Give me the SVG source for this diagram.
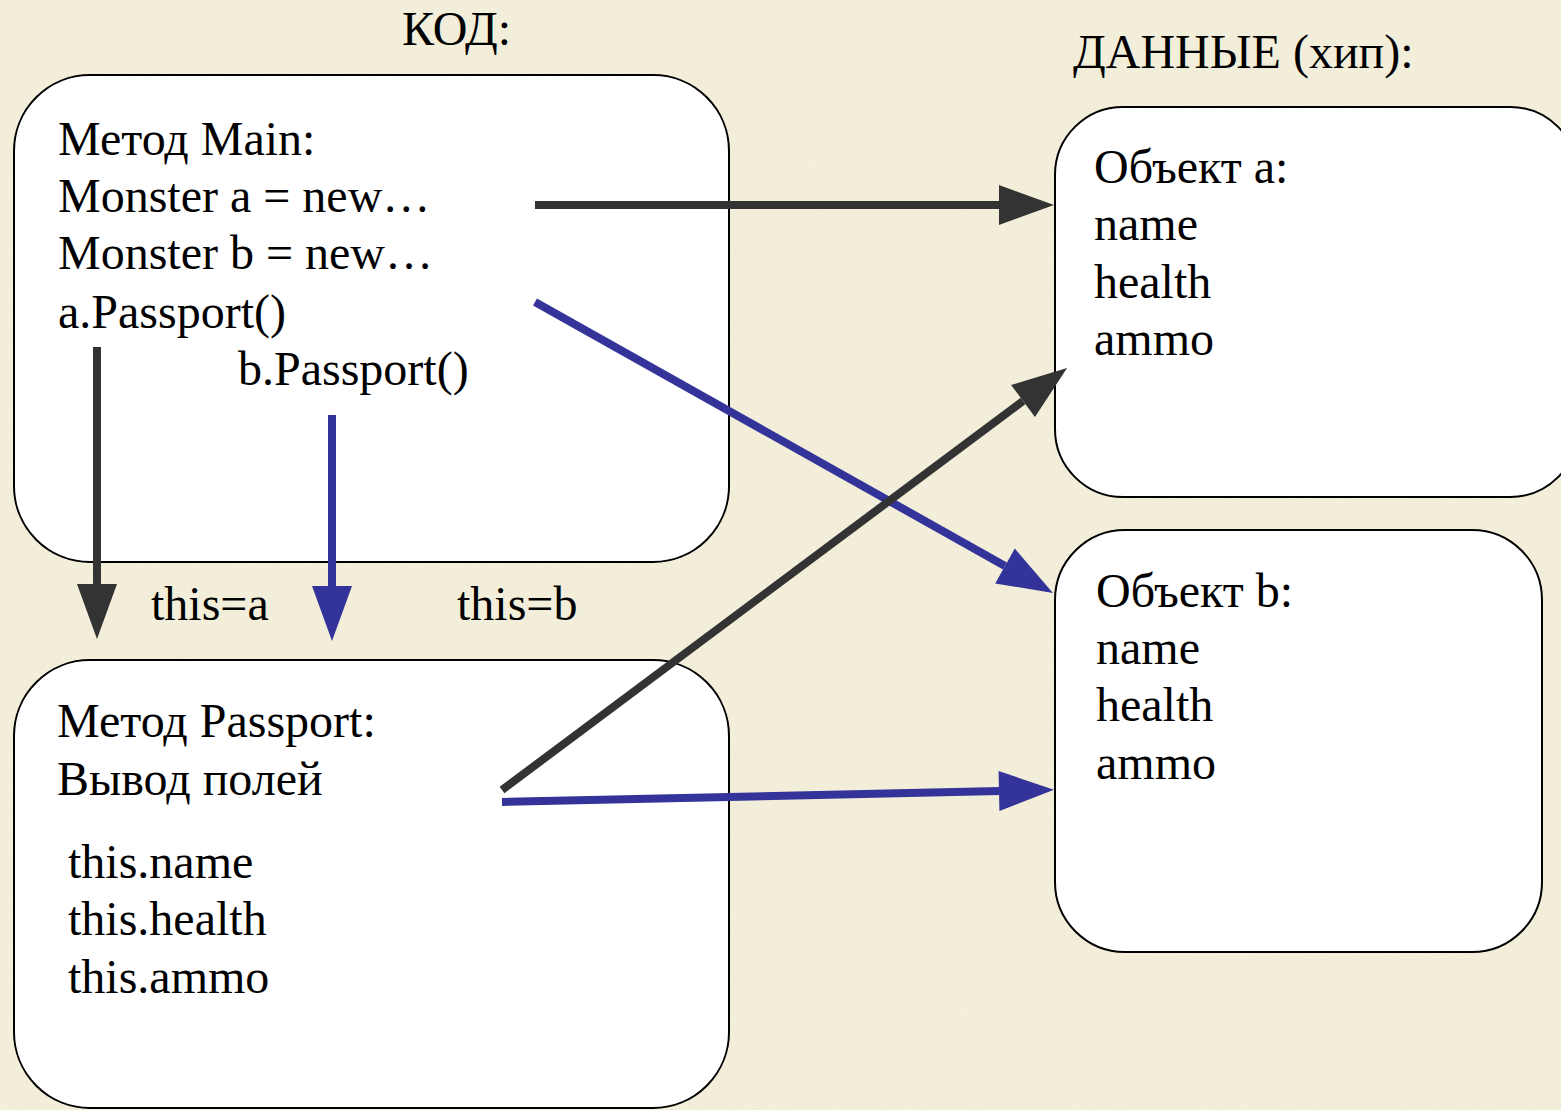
<svg xmlns="http://www.w3.org/2000/svg" width="1561" height="1110" viewBox="0 0 1561 1110">
  <style>
    .box { fill: #ffffff; stroke: #000000; stroke-width: 2; }
    .t { font-family: "Liberation Serif", "Times New Roman", serif; font-size: 48px; fill: #000000; }
    .dark { stroke: #333333; stroke-width: 8; fill: none; marker-end: url(#headDark); }
    .blue { stroke: #333399; stroke-width: 8; fill: none; marker-end: url(#headBlue); }
  </style>
  <defs>
    <marker id="headDark" markerUnits="userSpaceOnUse" viewBox="0 -22 58 44" refX="0" refY="0" markerWidth="58" markerHeight="44" orient="auto" overflow="visible">
      <path d="M0,-20 L55,0 L0,20 Z" fill="#333333"/>
    </marker>
    <marker id="headBlue" markerUnits="userSpaceOnUse" viewBox="0 -22 58 44" refX="0" refY="0" markerWidth="58" markerHeight="44" orient="auto" overflow="visible">
      <path d="M0,-20 L55,0 L0,20 Z" fill="#333399"/>
    </marker>
    <filter id="paper" x="0" y="0" width="100%" height="100%">
      <feTurbulence type="fractalNoise" baseFrequency="0.35" numOctaves="3" seed="7" result="n"/>
      <feColorMatrix in="n" type="matrix" values="0 0 0 0 0.78  0 0 0 0 0.74  0 0 0 0 0.58  0 0 0 0.55 -0.18"/>
    </filter>
  </defs>

  <!-- parchment background -->
  <rect x="0" y="0" width="1561" height="1110" fill="#F3EFDB"/>
  <rect x="0" y="0" width="1561" height="1110" filter="url(#paper)" opacity="0.6"/>

  <!-- section titles -->
  <text class="t" x="402" y="45">КОД:</text>
  <text class="t" x="1073" y="68">ДАННЫЕ (хип):</text>

  <g id="main-method">
    <rect class="box" x="14" y="75" width="715" height="487" rx="76" ry="76"/>
    <text class="t" x="58" y="155">Метод Main:</text>
    <text class="t" x="58" y="212">Monster a = new…</text>
    <text class="t" x="58" y="269">Monster b = new…</text>
    <text class="t" x="58" y="328">a.Passport()</text>
    <text class="t" x="238" y="385">b.Passport()</text>
  </g>

  <g id="passport-method">
    <rect class="box" x="14" y="660" width="715" height="448" rx="76" ry="76"/>
    <text class="t" x="57" y="737">Метод Passport:</text>
    <text class="t" x="57" y="795">Вывод полей</text>
    <text class="t" x="68" y="878">this.name</text>
    <text class="t" x="68" y="935">this.health</text>
    <text class="t" x="68" y="993">this.ammo</text>
  </g>

  <g id="object-a">
    <rect class="box" x="1055" y="107" width="523" height="390" rx="68" ry="68"/>
    <text class="t" x="1094" y="183">Объект a:</text>
    <text class="t" x="1094" y="240">name</text>
    <text class="t" x="1094" y="298">health</text>
    <text class="t" x="1094" y="355">ammo</text>
  </g>

  <g id="object-b">
    <rect class="box" x="1055" y="530" width="487" height="422" rx="70" ry="70"/>
    <text class="t" x="1096" y="607">Объект b:</text>
    <text class="t" x="1096" y="664">name</text>
    <text class="t" x="1096" y="721">health</text>
    <text class="t" x="1096" y="779">ammo</text>
  </g>

  <g id="connectors">
    <!-- new objects: a (dark), b (blue) -->
    <line class="dark" x1="535" y1="205" x2="999" y2="205"/>
    <line class="blue" x1="535" y1="302" x2="1005" y2="566"/>
    <!-- calls into Passport -->
    <line class="dark" x1="97" y1="347" x2="97" y2="584"/>
    <line class="blue" x1="332" y1="415" x2="332" y2="586"/>
    <!-- this references -->
    <line class="dark" x1="502" y1="790" x2="1023" y2="401"/>
    <line class="blue" x1="502" y1="802" x2="999" y2="791"/>
    <text class="t" x="151" y="620">this=a</text>
    <text class="t" x="457" y="620">this=b</text>
  </g>
</svg>
